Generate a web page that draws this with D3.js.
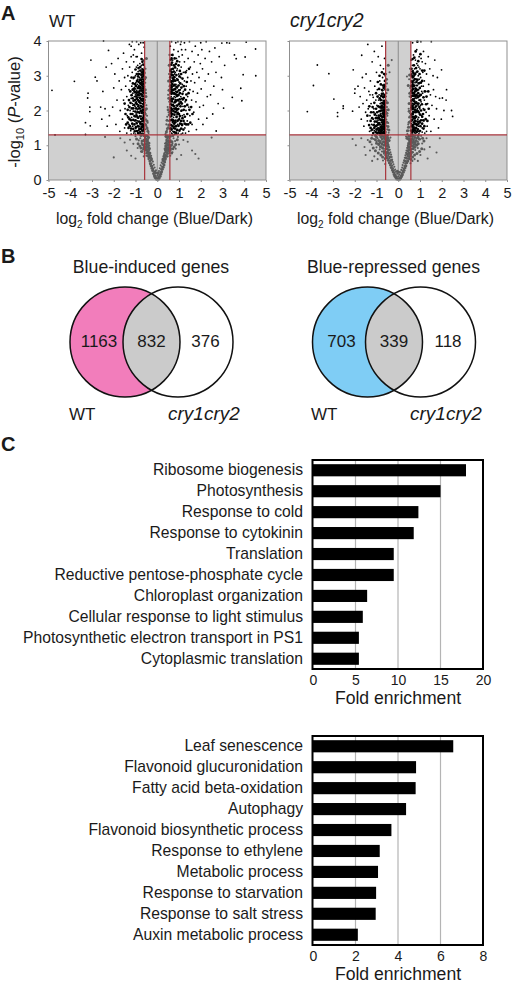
<!DOCTYPE html>
<html>
<head>
<meta charset="utf-8">
<script src="https://cdn.jsdelivr.net/npm/d3@7"></script>
<style>
  body { margin: 0; background: #fff; }
  text { font-family: "Liberation Sans", Arial, sans-serif; fill: #1a1a1a; }
</style>
</head>
<body>
<svg id="chart" width="520" height="987"></svg>
<script>
// Volcano points: [log2 fold change, -log10 P]
const wtSigLeft = [[-4.84,2.58],[-3.81,2.84],[-3.05,3.45],[-3.18,2.5],[-3.2,2.36],[-3.1,2.1],[-3.1,1.97],[-3.3,1.65],[-3.08,1.56],[-4.7,1.3],[-3.3,1.31],[-2.85,2.96],[-2.77,2.85],[-2.47,4],[-2.24,3.73],[-2.35,3.25],[-2.1,3.35],[-2.5,2.55],[-2.6,2.1],[-2.4,2.05],[-2.2,1.85],[-2.55,1.75],[-2.3,1.55],[-2.05,2.1],[-2.0,2.65],[-1.95,3.05],[-1.85,2.3],[-1.9,1.6],[-1.8,3.5],[-1.75,2.85],[-1.7,2.0],[-1.72,1.4],
[-1.65,2.6],[-1.6,3.2],[-1.6,1.75],[-1.55,2.3],[-1.55,3.65],[-1.5,2.95],[-1.5,1.5],[-1.48,2.05],[-1.45,2.7],[-1.42,3.4],[-1.4,1.35],[-1.4,2.4],[-1.38,1.85],[-1.35,3.0],[-1.33,2.15],[-1.3,2.6],[-1.3,1.6],[-1.28,3.9],[-1.27,3.25],[-1.25,2.85],[-1.25,2.0],[-1.22,1.42],[-1.2,2.35],[-1.2,3.55],[-1.18,1.8],[-1.17,2.7],[-1.15,3.1],[-1.15,2.2],[-1.13,1.55],[-1.12,2.5],[-1.1,2.92],[-1.1,1.98],[-1.08,3.4],[-1.08,1.35],[-1.06,2.3],[-1.05,2.65],[-1.05,3.75],[-1.03,1.7],[-1.02,2.12],[-1.0,3.0],[-1.0,2.45],[-0.99,1.48],[-0.98,2.8],[-0.97,1.9],[-0.96,3.25],[-0.95,2.25],[-0.94,2.58],[-0.93,1.62],[-0.92,3.55],[-0.91,2.02],[-0.9,2.9],[-0.9,1.36],[-0.89,2.38],[-0.88,3.12],[-0.87,1.78],[-0.86,2.7],[-0.85,2.16],[-0.85,3.9],[-0.84,1.5],[-0.83,2.5],[-0.82,2.95],[-0.81,1.92],[-0.8,3.35],[-0.8,2.28],[-0.79,1.33],[-0.78,2.62],[-0.77,1.66],[-0.76,2.05],[-0.75,3.05],[-0.75,2.8],[-0.74,2.42],[-0.73,1.45],[-0.72,1.84],[-0.72,3.65],[-0.71,2.2],[-0.7,2.55],[-0.7,3.2],[-0.69,1.58],[-0.68,2.9],[-0.68,1.98],[-0.67,2.34],[-0.66,1.35],[-0.66,2.7],[-0.65,1.75],[-0.65,3.45],[-0.64,2.12],[-0.64,2.48],[-0.63,1.5],[-0.63,3.0],[-0.62,1.9],[-0.62,2.6],[-0.61,2.26],[-0.61,1.64],[-0.6,3.82],[-0.6,2.8],[-0.6,1.4],[-0.6,2.05],[-0.59,1.8],[-0.59,2.4],[-0.59,3.25],[-0.85,1.42],[-0.92,1.7],[-1.0,1.82],[-0.8,1.55],[-0.75,1.68],[-0.7,1.42],[-0.68,1.62],[-0.64,1.82],[-0.62,1.55],[-0.72,2.0],[-0.78,2.15],[-0.82,2.38],[-0.88,2.05],[-0.95,2.48],[-1.05,2.4],[-1.12,2.15],[-0.66,2.2],[-0.7,2.35],[-0.74,2.65],[-0.63,2.35],[-0.67,2.52],[-0.76,2.9],[-0.84,2.72],[-0.92,2.75],[-1.0,2.62],[-0.68,3.1],[-0.73,3.3],[-0.82,3.15],[-0.9,3.3],[-0.97,3.55],[-1.1,3.6],[-1.2,3.85],[-0.65,3.95],[-0.76,3.95],[-0.95,3.98],[-1.15,3.98],[-0.64,1.32],[-0.72,1.33],[-1.0,1.32],[-1.2,1.32]];
const wtDenseLeft = [[-.6,1.46],[-.64,1.58],[-.61,1.71],[-.67,1.42],[-.7,1.52],[-.73,1.6],[-.62,1.87],[-.66,1.78],[-.69,1.69],[-.75,1.48],[-.78,1.38],[-.6,1.95],[-.65,2.02],[-.63,2.17],[-.68,2.09],[-.71,1.93],[-.74,1.76],[-.78,1.62],[-.82,1.46],[-.87,1.34],[-.6,2.22],[-.62,2.31],[-.66,2.41],[-.69,2.28],[-.73,2.12],[-.76,1.98],[-.8,1.83],[-.84,1.68],[-.89,1.55],[-.93,1.41],[-.6,2.52],[-.64,2.58],[-.67,2.64],[-.71,2.46],[-.74,2.32],[-.78,2.22],[-.82,2.06],[-.85,1.95],[-.9,1.8],[-.95,1.64],[-.98,1.52],[-1.03,1.4],[-.61,2.68],[-.65,2.76],[-.69,2.72],[-.72,2.58],[-.76,2.48],[-.79,2.36],[-.83,2.25],[-.87,2.12],[-.91,1.95],[-.95,1.85],[-1,1.72],[-1.05,1.6],[-1.1,1.47],[-.6,2.9],[-.63,2.84],[-.67,2.97],[-.71,2.82],[-.74,2.76],[-.78,2.68],[-.81,2.56],[-.85,2.44],[-.89,2.3],[-.93,2.18],[-.97,2.06],[-1.01,1.97],[-1.05,1.84],[-1.1,1.73],[-1.15,1.62],[-1.2,1.48],[-.6,3.08],[-.63,3.14],[-.66,3.04],[-.7,2.95],[-.74,2.88],[-.78,2.78],[-.82,2.64],[-.86,2.52],[-.9,2.44],[-.94,2.34],[-.98,2.22],[-1.02,2.3],[-1.06,2.16],[-1.1,2.06],[-1.14,1.9],[-1.2,1.72],[-1.26,1.55],[-.66,3.18],[-.7,3.1],[-.73,3.02],[-.77,3.15],[-.81,2.88],[-.85,2.82],[-.89,2.65],[-.93,2.52],[-.97,2.4],[-1.01,2.52],[-1.05,2.55],[-1.09,2.28],[-1.13,2.35],[-1.17,2.06],[-1.22,1.9],[-1.27,1.75],[-1.32,1.5],[-.64,3.32],[-.68,3.4],[-.72,3.48],[-.78,3.25],[-.84,3.05],[-.88,2.98],[-.93,2.85],[-.98,2.7],[-1.03,2.76],[-1.08,2.62],[-1.13,2.6],[-1.18,2.44],[-1.23,2.22],[-1.28,2.1],[-1.33,1.8],[-1.36,1.65],[-.86,3.22],[-.94,3.05],[-1,3.18],[-1.06,2.95],[-1.12,2.78],[-1.18,2.95],[-1.24,2.55],[-1.3,2.3],[-1.36,2.02],[-1.43,1.6],[-1.46,1.9],[-1.5,2.2]];
const wtSigRight = [[4.52,3.77],[4.09,3.97],[4.04,3.54],[4.53,3],[3.95,3.03],[3.84,2.64],[3.89,2.28],[3.45,2.38],[3.05,2.07],[3.55,3.6],[3.63,3.49],[3.32,3.94],[2.97,3.94],[2.71,1.41],[3.2,3.95],[3.1,3.3],[2.95,2.95],[3.0,2.6],[2.85,3.55],[2.8,2.2],[2.7,3.1],[2.65,3.8],[2.6,2.7],[2.55,1.9],[2.5,3.4],[2.45,2.45],[2.4,3.7],[2.35,3.05],[2.3,2.4],[2.28,1.78],[2.25,3.98],[2.2,3.5],[2.2,2.85],[2.12,2.15],[2.1,1.6],[2.08,3.2],[2.05,3.75],[2.02,2.62],[2.0,3.95],[1.98,3.35],[1.95,2.1],[1.92,2.95],[1.9,1.75],[1.88,3.6],[1.85,2.5],[1.82,3.1],[1.8,1.45],[1.78,2.25],[1.75,3.85],[1.72,2.8],[1.7,3.4],[1.68,1.95],[1.65,2.55],[1.62,3.05],[1.6,1.6],[1.6,3.7],[1.58,2.3],[1.55,2.85],[1.52,3.25],[1.5,1.85],[1.5,2.6],[1.48,3.98],[1.45,2.1],[1.45,1.4],[1.42,3.5],[1.4,2.95],[1.4,2.4],[1.38,1.7],[1.35,3.15],[1.33,2.7],[1.32,2.0],[1.3,3.75],[1.28,2.25],[1.27,1.5],[1.25,3.4],[1.25,2.85],[1.23,1.88],[1.2,2.55],[1.2,3.1],[1.18,2.12],[1.17,1.35],[1.15,3.6],[1.15,2.75],[1.13,1.62],[1.12,2.35],[1.1,3.25],[1.1,1.98],[1.08,2.95],[1.07,3.9],[1.06,2.6],[1.05,1.45],[1.04,2.2],[1.03,3.4],[1.02,1.78],[1.0,2.82],[1.0,2.45],[0.99,3.05],[0.98,2.05],[0.97,1.35],[0.96,3.7],[0.95,2.68],[0.94,1.6],[0.93,2.3],[0.92,3.2],[0.91,1.88],[0.9,2.92],[0.9,2.52],[0.89,1.42],[0.88,3.5],[0.87,2.15],[0.86,2.75],[0.85,1.72],[0.85,3.95],[0.84,2.38],[0.83,3.1],[0.82,1.95],[0.81,1.32],[0.8,2.6],[0.8,3.3],[0.79,2.85],[0.78,1.55],[0.77,2.22],[0.76,3.75],[0.75,2.48],[0.75,1.8],[0.74,3.0],[0.73,2.05],[0.72,1.4],[0.72,2.7],[0.71,3.45],[0.7,2.32],[0.7,1.65],[0.69,2.92],[0.68,1.9],[0.68,3.2],[0.67,2.56],[0.66,1.35],[0.66,2.14],[0.65,3.6],[0.65,1.72],[0.64,2.8],[0.64,2.4],[0.63,1.5],[0.63,3.05],[0.62,2.0],[0.62,2.66],[0.61,1.82],[0.61,2.25],[0.6,3.85],[0.6,1.4],[0.6,3.3],[0.6,2.5],[0.59,1.6],[0.59,2.1],[0.59,2.9],[0.72,1.55],[0.8,1.7],[0.88,1.8],[0.95,1.95],[0.65,1.95],[0.7,2.15],[0.78,2.4],[0.85,2.55],[0.92,2.65],[1.0,2.25],[1.08,2.4],[1.15,1.85],[0.65,2.6],[0.72,2.95],[0.8,3.05],[0.9,3.15],[1.0,3.55],[1.12,3.75],[1.25,3.95],[0.66,3.98],[0.95,3.98],[1.1,3.98],[0.7,1.32],[0.9,1.33],[1.1,1.32],[1.3,1.35]];
const wtDenseRight = [[.6,1.48],[.63,1.58],[.6,1.72],[.66,1.45],[.69,1.56],[.72,1.68],[.62,1.9],[.65,1.84],[.68,1.74],[.75,1.5],[.78,1.38],[.6,1.97],[.64,2.06],[.62,2.18],[.67,2.02],[.7,1.9],[.74,1.72],[.78,1.62],[.82,1.48],[.86,1.36],[.6,2.3],[.63,2.34],[.65,2.48],[.68,2.26],[.72,2.16],[.75,1.98],[.79,1.88],[.83,1.66],[.87,1.55],[.92,1.44],[.6,2.6],[.63,2.54],[.66,2.66],[.7,2.5],[.73,2.34],[.77,2.12],[.81,2.05],[.85,1.96],[.89,1.82],[.93,1.7],[.98,1.56],[1.02,1.42],[.61,2.72],[.64,2.7],[.67,2.84],[.71,2.58],[.74,2.6],[.78,2.5],[.82,2.24],[.86,2.06],[.9,2.02],[.94,1.92],[.99,1.74],[1.05,1.62],[1.1,1.48],[.6,2.96],[.62,2.84],[.65,3.02],[.69,2.76],[.73,2.84],[.77,2.72],[.81,2.48],[.84,2.3],[.88,2.28],[.92,2.14],[.96,2.04],[1,1.9],[1.04,1.84],[1.09,1.7],[1.14,1.58],[1.2,1.45],[.6,3.14],[.63,3.18],[.67,3.1],[.71,3.02],[.75,2.9],[.79,2.96],[.83,2.62],[.87,2.46],[.91,2.42],[.95,2.3],[.99,2.18],[1.03,2.32],[1.07,2.12],[1.12,2],[1.16,1.78],[1.21,1.7],[1.26,1.62],[.64,3.32],[.68,3.38],[.72,3.2],[.76,3.12],[.8,2.74],[.84,2.86],[.88,2.68],[.92,2.54],[.96,2.44],[1,2.58],[1.04,2.5],[1.08,2.24],[1.13,2.2],[1.17,2.32],[1.22,2.02],[1.27,1.82],[1.33,1.6],[.62,3.46],[.66,3.5],[.7,3.6],[.76,3.3],[.82,3.24],[.88,3.02],[.94,2.88],[.98,2.72],[1.02,2.98],[1.06,2.78],[1.11,2.66],[1.16,2.48],[1.22,2.36],[1.27,2.12],[1.32,2.3],[1.38,1.9],[1.42,1.6],[.8,3.5],[.86,3.34],[.92,3.42],[.98,3.3],[1.04,3.14],[1.1,3.05],[1.16,2.92],[1.22,2.7],[1.28,2.6],[1.34,2.46],[1.38,2.16],[1.44,2.5],[1.48,2.02],[1.52,1.65],[1.56,2.1],[1.62,1.9],[1.3,3.1],[1.36,2.82],[1.46,3.2]];
const wtGrey = [[0,0],[0.03,0.05],[-0.03,0.08],[0.06,0.1],[-0.07,0.12],[0.1,0.16],[-0.1,0.18],[0.02,0.14],[-0.02,0.2],[0.14,0.22],[-0.14,0.25],[0.08,0.26],[-0.06,0.28],[0.18,0.3],[-0.18,0.32],[0.12,0.34],[-0.12,0.36],[0.22,0.38],[-0.22,0.4],[0.16,0.42],[-0.16,0.44],[0.26,0.47],[-0.26,0.48],[0.2,0.5],[-0.2,0.53],[0.3,0.55],[-0.3,0.57],[0.24,0.6],[-0.25,0.62],[0.34,0.64],[-0.35,0.66],[0.28,0.68],[-0.28,0.7],[0.4,0.72],[-0.4,0.74],[0.32,0.77],[-0.32,0.78],[0.45,0.8],[-0.46,0.82],[0.36,0.85],[-0.37,0.86],[0.52,0.88],[-0.52,0.9],[0.4,0.92],[-0.41,0.94],[0.6,0.96],[-0.62,0.98],[0.44,1],[-0.44,1.02],[0.7,1.04],[-0.72,1.06],[0.5,1.08],[-0.5,1.1],[0.82,1.12],[-0.85,1.14],[0.42,1.16],[-0.42,1.18],[0.56,1.2],[-0.56,1.22],[0.95,1.24],[-1,1.26],[0.46,1.27],[-0.48,1.28],[0.7,0.8],[-0.75,0.82],[0.85,0.9],[-0.9,0.92],[1,1.02],[-1.1,1.04],[1.2,1.15],[-1.25,1.16],[0.6,0.7],[-0.62,0.68],[1.4,1.1],[-1.5,1.08],[1.6,0.85],[-1.4,0.85],[1.9,0.62],[-2,0.65],[2.5,1.22],[-2.4,1.24],[1.75,0.75],[-1.7,1.2],[0.9,0.6],[-1,0.62],[1.1,0.72],[-1.2,0.7],[0.38,1.32],[-0.4,1.35],[0.44,1.42],[-0.45,1.45],[0.5,1.52],[-0.5,1.55],[0.42,1.6],[-0.44,1.65],[0.54,1.7],[-0.52,1.75],[0.46,1.82],[-0.47,1.85],[0.52,1.95],[-0.54,2],[0.48,2.1],[-0.5,2.15],[0.55,2.25],[-0.56,2.3],[0.5,2.45],[-0.52,2.5],[0.56,2.7],[-0.55,2.8],[0.54,3.05],[-0.54,3.2],[0.56,3.6],[0.3,0.45],[-0.34,0.48],[0.38,0.58],[-0.4,0.6],[0.48,0.68],[-0.5,0.7],[0.55,0.78],[-0.58,0.76],[0.62,0.86],[-0.65,0.88],[0.5,0.98],[-0.5,1],[0.62,1.14],[-0.62,1.16],[0.75,1.2],[-0.78,1.2],[0.48,1.2],[-0.46,1.1],[0.36,1.05],[-0.36,1.06]];
const wtGreyDense = [[.05,.02],[-.05,.03],[.09,.06],[-.1,.07],[.13,.11],[-.13,.12],[.04,.2],[-.09,.22],[.17,.17],[-.17,.19],[.2,.24],[-.21,.27],[.23,.31],[-.24,.34],[.27,.37],[-.28,.4],[.31,.43],[-.31,.46],[.34,.52],[-.34,.55],[.37,.62],[-.38,.64],[.27,.56],[-.27,.58],[.3,.62],[-.31,.65],[.36,.7],[-.37,.71],[.42,.68],[-.43,.7],[.33,.72],[-.35,.76],[.39,.8],[-.4,.8],[.47,.76],[-.48,.78],[.36,.9],[-.36,.91],[.43,.86],[-.43,.88],[.49,.85],[-.5,.86],[.56,.84],[-.56,.86],[.39,.98],[-.39,.99],[.46,.93],[-.46,.95],[.54,.93],[-.55,.96],[.61,.91],[-.62,.93],[.41,1.06],[-.41,1.07],[.47,1.02],[-.48,1.04],[.54,1.02],[-.55,1.04],[.65,1],[-.67,1.02],[.44,1.12],[-.45,1.13],[.5,1.14],[-.51,1.17],[.58,1.1],[-.59,1.12],[.68,1.1],[-.7,1.12],[.44,1.23],[-.44,1.25],[.5,1.25],[-.53,1.27],[.6,1.26],[-.62,1.28],[.72,1.28],[-.75,1.28],[.85,1.02],[-.88,1.04],[.78,.96],[-.8,.98],[.72,.9],[-.75,.92],[.66,.78],[-.7,.82],[.92,1.16],[-.95,1.18],[.4,1.26],[-.4,1.22],[.42,1.38],[-.43,1.4],[.47,1.48],[-.47,1.5],[.53,1.58],[-.54,1.6],[.45,1.72],[-.47,1.7],[.55,1.88],[-.55,1.9],[.5,2.02],[-.5,2.05],[.53,2.35],[-.52,2.4],[.54,2.58],[-.55,2.6],[.52,2.85],[-.54,2.95],[.55,3.3],[-.5,3.5]];

const cryRSigLeft = [[-3.72,3.31],[-3.19,3.06],[-3.9,2.72],[-4.18,1.97],[-2.96,2.33],[-2.53,2.13],[-2.53,2.06],[-2.79,1.94],[-2.79,1.83],[-2.07,3.17],[-1.68,3.59],[-1.99,2.62],[-2.1,1.98],[-2.0,2.5],[-1.85,2.7],[-1.8,2.1],[-1.75,2.4],[-1.7,1.75],[-1.65,2.95],[-1.62,2.2],[-1.58,1.55],[-1.55,2.65],[-1.5,1.95],[-1.48,3.05],[-1.45,2.3],[-1.42,1.7],[-1.4,3.9],[-1.38,2.05],[-1.35,2.55],[-1.32,1.4],[-1.3,1.85],[-1.28,2.85],[-1.25,2.2],[-1.22,1.6],[-1.2,3.4],[-1.18,2.45],[-1.15,1.75],[-1.12,2.05],[-1.1,3.7],[-1.1,1.42],[-1.08,2.7],[-1.05,1.9],[-1.03,2.3],[-1.0,3.1],[-1,1.55],[-0.98,2.15],[-0.96,2.6],[-0.95,1.33],[-0.93,1.72],[-0.92,3.55],[-0.9,1.98],[-0.88,2.45],[-0.87,1.48],[-0.85,2.85],[-0.84,1.85],[-0.83,2.2],[-0.82,3.3],[-0.8,1.6],[-0.79,2.05],[-0.78,1.38],[-0.77,2.6],[-0.76,1.75],[-0.75,3.85],[-0.75,2.3],[-0.74,1.5],[-0.73,1.92],[-0.72,2.95],[-0.71,1.66],[-0.7,2.12],[-0.7,1.34],[-0.69,2.5],[-0.68,1.82],[-0.68,3.2],[-0.67,1.45],[-0.66,2.0],[-0.65,2.75],[-0.65,1.6],[-0.64,2.25],[-0.64,1.36],[-0.63,1.75],[-0.63,3.5],[-0.62,2.4],[-0.62,1.5],[-0.61,1.9],[-0.61,2.6],[-0.6,1.65],[-0.6,2.1],[-0.6,1.32],[-0.6,3.0],[-0.59,1.82],[-0.59,1.45],[-0.59,2.3],[-0.72,1.42],[-0.78,1.56],[-0.85,1.65],[-0.92,1.5],[-1.0,1.85],[-0.82,1.9],[-0.68,1.55],[-0.72,1.75],[-0.65,1.85],[-0.62,1.98],[-0.63,1.42],[-0.66,1.7],[-0.7,1.98],[-0.78,2.22],[-0.9,2.3],[-1.15,2.38],[-1.3,2.45],[-1.25,1.42],[-1.1,1.6],[-0.66,1.35],[-0.78,1.32]];
const cryDenseLeft = [[-.6,1.38],[-.62,1.34],[-.64,1.47],[-.6,1.56],[-.62,1.62],[-.65,1.53],[-.67,1.38],[-.69,1.48],[-.7,1.6],[-.6,1.74],[-.62,1.8],[-.64,1.68],[-.67,1.62],[-.69,1.72],[-.72,1.54],[-.74,1.36],[-.76,1.44],[-.6,1.9],[-.63,1.95],[-.66,1.84],[-.68,1.9],[-.71,1.82],[-.74,1.66],[-.77,1.5],[-.8,1.4],[-.83,1.34],[-.6,2.02],[-.62,2.14],[-.65,2.08],[-.68,2.02],[-.71,1.92],[-.75,1.82],[-.78,1.72],[-.81,1.52],[-.85,1.45],[-.88,1.36],[-.6,2.22],[-.63,2.18],[-.66,2.28],[-.69,2.2],[-.73,2.08],[-.76,2],[-.8,1.85],[-.83,1.74],[-.87,1.6],[-.9,1.42],[-.95,1.48],[-.98,1.36],[-.6,2.4],[-.64,2.45],[-.68,2.38],[-.72,2.22],[-.76,2.14],[-.8,2.1],[-.84,1.98],[-.88,1.78],[-.92,1.64],[-.96,1.58],[-1,1.45],[-1.04,1.38],[-.62,2.7],[-.67,2.65],[-.71,2.4],[-.75,2.48],[-.81,2.3],[-.86,2.1],[-.9,1.85],[-.95,1.78],[-1,1.68],[-1.05,1.55],[-1.1,1.5],[-1.15,1.35],[-.61,2.85],[-.7,2.72],[-.78,2.42],[-.85,2.35],[-.92,2.12],[-.97,1.95],[-1.03,1.78],[-1.08,1.68],[-1.14,1.58],[-1.2,1.45],[-1.27,1.5],[-.65,3.05],[-.73,2.58],[-.8,2.75],[-.88,2.62],[-.95,2.4],[-1.02,2.05],[-1.08,1.88],[-1.14,1.95],[-1.2,1.78],[-1.27,1.7],[-1.34,1.58],[-.75,3.1],[-.86,3],[-.94,2.82],[-1.02,2.5],[-1.1,2.22],[-1.18,2.1],[-1.25,1.95],[-1.33,2.12],[-1.42,1.85]];
const cryRSigRight = [[1.99,3.17],[2.22,2.6],[2.5,1.83],[2.45,2],[2.2,2.3],[2.03,2.36],[2.1,2.0],[1.98,1.75],[1.9,2.35],[1.85,1.5],[1.8,2.95],[1.76,2.05],[1.72,2.4],[1.68,3.45],[1.65,1.75],[1.62,2.6],[1.6,3.0],[1.55,2.15],[1.52,3.98],[1.5,1.4],[1.48,2.45],[1.45,3.2],[1.42,1.85],[1.4,2.75],[1.38,3.55],[1.35,2.2],[1.33,1.55],[1.3,3.05],[1.28,1.95],[1.27,2.55],[1.25,3.35],[1.22,1.35],[1.2,2.3],[1.2,2.85],[1.18,1.7],[1.16,3.7],[1.15,2.05],[1.13,3.1],[1.12,2.5],[1.1,1.5],[1.1,3.4],[1.08,1.85],[1.07,2.7],[1.05,2.25],[1.04,3.98],[1.03,2.95],[1.02,1.42],[1.01,1.65],[1,2.45],[1,3.2],[0.99,2.05],[0.98,2.8],[0.97,1.9],[0.96,3.55],[0.95,1.33],[0.95,2.3],[0.94,2.6],[0.93,1.55],[0.92,3.0],[0.91,2.15],[0.9,1.75],[0.9,3.3],[0.89,2.42],[0.88,2.72],[0.87,1.42],[0.86,1.98],[0.85,3.75],[0.85,2.9],[0.84,2.25],[0.83,1.62],[0.82,3.1],[0.81,2.55],[0.8,1.85],[0.8,1.35],[0.79,3.45],[0.78,2.08],[0.77,2.8],[0.76,1.5],[0.75,2.35],[0.75,3.2],[0.74,1.72],[0.73,2.62],[0.72,1.95],[0.72,2.98],[0.71,1.4],[0.7,2.18],[0.7,3.6],[0.69,1.6],[0.68,2.48],[0.68,2.8],[0.67,1.82],[0.66,3.95],[0.66,1.32],[0.65,2.05],[0.65,3.3],[0.64,2.65],[0.64,1.5],[0.63,2.3],[0.63,1.72],[0.62,3.05],[0.62,1.92],[0.61,1.4],[0.61,2.5],[0.6,2.15],[0.6,1.62],[0.6,2.85],[0.6,1.32],[0.59,3.45],[0.59,1.8],[0.59,2.02],[0.59,2.38],[0.7,1.78],[0.76,1.95],[0.82,2.35],[0.88,2.05],[0.94,1.8],[1.02,2.15],[0.78,2.65],[0.84,2.72],[0.9,2.6],[0.96,2.9],[1.08,2.55],[1.15,2.7],[0.66,1.45],[0.72,1.55],[0.8,1.6],[0.68,2.15],[0.72,2.32],[0.65,2.42],[0.75,2.92],[0.85,3.35],[0.95,3.25],[1.05,3.5],[0.62,2.7],[0.68,3.15],[0.92,1.45],[1.1,1.38],[1.3,1.4],[0.74,1.36]];
const cryDenseRight = [[.6,1.42],[.62,1.55],[.6,1.7],[.64,1.38],[.66,1.58],[.68,1.42],[.6,1.88],[.63,1.82],[.65,1.74],[.67,1.9],[.7,1.5],[.72,1.66],[.74,1.46],[.6,2.08],[.62,2.2],[.64,2.12],[.67,2.04],[.69,1.96],[.72,1.82],[.76,1.62],[.78,1.42],[.6,2.28],[.62,2.42],[.65,2.3],[.68,2.32],[.7,2.08],[.73,2.18],[.76,1.78],[.79,1.7],[.82,1.5],[.85,1.38],[.6,2.55],[.63,2.58],[.66,2.5],[.68,2.62],[.71,2.42],[.74,2.26],[.77,2.02],[.8,1.95],[.83,1.82],[.86,1.58],[.9,1.46],[.6,2.7],[.63,2.82],[.66,2.75],[.7,2.7],[.72,2.5],[.76,2.44],[.79,2.22],[.82,2.12],[.85,2],[.89,1.68],[.93,1.62],[.97,1.4],[.6,3.02],[.64,2.98],[.67,2.95],[.7,2.86],[.74,2.72],[.77,2.55],[.8,2.4],[.84,2.45],[.87,2.2],[.9,1.98],[.94,1.95],[.98,1.68],[1.02,1.55],[.61,3.2],[.65,3.12],[.7,3.08],[.74,3.02],[.78,2.9],[.82,2.62],[.86,2.58],[.9,2.38],[.93,2.2],[.97,2.1],[1.01,1.88],[1.05,1.72],[1.1,1.62],[1.16,1.48],[.66,3.48],[.72,3.3],[.78,3.05],[.84,2.82],[.88,2.88],[.92,2.5],[.97,2.42],[1.01,2.3],[1.05,2],[1.1,1.82],[1.15,1.72],[1.2,1.55],[.74,3.52],[.82,3.22],[.88,3.12],[.94,2.78],[.99,2.65],[1.04,2.45],[1.09,2.18],[1.14,1.9],[1.2,2.02],[1.26,1.75],[.8,3.7],[.92,3.42],[.98,3.05],[1.04,2.8],[1.1,2.85],[1.16,2.38],[1.22,2.55],[1.28,2.18],[1.34,1.7],[1.4,2.05],[.88,3.98],[1.02,3.62],[1.1,3.15],[1.2,3.15],[1.3,2.4],[1.38,2.55]];
const cryRGrey = [[0,0],[0.04,0.04],[-0.04,0.05],[0.08,0.08],[-0.08,0.1],[0,0.1],[0.12,0.13],[-0.12,0.14],[0.05,0.15],[-0.05,0.18],[0.16,0.19],[-0.16,0.2],[0.1,0.22],[-0.1,0.24],[0.2,0.26],[-0.2,0.27],[0.14,0.29],[-0.14,0.3],[0.24,0.32],[-0.24,0.34],[0.18,0.36],[-0.18,0.38],[0.28,0.4],[-0.28,0.41],[0.2,0.43],[-0.22,0.45],[0.32,0.47],[-0.32,0.48],[0.24,0.5],[-0.25,0.52],[0.36,0.54],[-0.37,0.55],[0.27,0.57],[-0.28,0.59],[0.4,0.61],[-0.42,0.62],[0.3,0.64],[-0.3,0.66],[0.45,0.68],[-0.47,0.69],[0.33,0.71],[-0.33,0.73],[0.5,0.75],[-0.52,0.76],[0.36,0.78],[-0.36,0.8],[0.56,0.82],[-0.6,0.83],[0.38,0.85],[-0.39,0.87],[0.62,0.89],[-0.68,0.9],[0.41,0.92],[-0.42,0.94],[0.7,0.96],[-0.78,0.97],[0.44,0.99],[-0.45,1.01],[0.8,1.03],[-0.9,1.04],[0.46,1.06],[-0.48,1.08],[0.9,1.1],[-1,1.11],[0.5,1.13],[-0.5,1.15],[1,1.17],[-1.12,1.18],[0.52,1.2],[-0.53,1.22],[0.65,1.24],[-0.7,1.25],[0.56,1.26],[-0.56,1.27],[0.8,1.28],[-0.85,1.28],[0.44,0.7],[-0.46,0.72],[0.52,0.66],[-0.56,0.68],[0.6,0.74],[-0.66,0.76],[0.68,0.8],[-0.75,0.82],[0.78,0.86],[-0.85,0.88],[0.9,0.92],[-1,0.94],[0.6,1],[-0.62,1.02],[0.72,1.1],[-0.8,1.12],[1.1,1.05],[-1.22,1.02],[1.2,0.88],[-1.3,0.85],[1.3,1.2],[-1.4,1.15],[0.85,1.2],[-0.95,1.2],[1.05,1.27],[-1.2,1.28],[1.02,0.72],[-1.1,0.68],[1.76,0.79],[1.91,1.2],[-1.55,0.95],[-1.7,1.2],[-1.5,0.72],[-1.95,1],[-2.1,1.18],[1.45,0.95],[1.35,0.62],[-1.2,0.55],[0.9,0.55],[-0.95,0.6],[0.75,0.6],[0.65,0.55],[-0.7,0.56],[0.56,0.48],[-0.6,0.46],[0.42,1.32],[-0.44,1.36],[0.48,1.42],[-0.5,1.46],[0.52,1.52],[-0.54,1.56],[0.46,1.6],[-0.46,1.64],[0.55,1.7],[-0.55,1.74],[0.5,1.8],[-0.5,1.85],[0.54,1.92],[-0.56,1.98],[0.48,2.05],[-0.52,2.1],[0.56,2.2],[-0.55,2.28],[0.52,2.4],[-0.54,2.5],[0.55,2.65],[-0.52,2.78],[0.5,2.9],[-0.56,3.05],[0.54,3.2],[-0.4,3.1],[0.4,2.98],[-0.3,3.45],[0.36,1.25],[-0.36,1.22],[0.6,1.14],[-0.64,1.18]];
const cryGreyDense = [[.07,.02],[-.07,.03],[.11,.06],[-.11,.07],[.15,.1],[-.15,.11],[.03,.22],[-.04,.25],[.19,.15],[-.19,.16],[.23,.22],[-.23,.23],[.27,.28],[-.27,.29],[.31,.35],[-.32,.36],[.35,.41],[-.36,.43],[.39,.5],[-.41,.5],[.44,.55],[-.46,.57],[.31,.55],[-.32,.57],[.49,.62],[-.51,.64],[.37,.64],[-.38,.66],[.56,.7],[-.58,.72],[.42,.74],[-.43,.76],[.48,.78],[-.49,.8],[.55,.78],[-.58,.8],[.63,.8],[-.66,.82],[.44,.84],[-.45,.86],[.5,.88],[-.51,.9],[.57,.88],[-.58,.9],[.68,.9],[-.72,.92],[.76,.94],[-.82,.96],[.46,.94],[-.47,.97],[.53,.96],[-.54,.98],[.64,.98],[-.66,1],[.72,1.02],[-.75,1.04],[.84,1],[-.9,1.02],[.49,1.03],[-.5,1.05],[.56,1.04],[-.58,1.06],[.66,1.08],[-.68,1.1],[.78,1.08],[-.84,1.08],[.92,1.04],[-1,1.06],[.53,1.1],[-.54,1.12],[.6,1.1],[-.62,1.1],[.7,1.16],[-.74,1.18],[.82,1.14],[-.9,1.14],[.96,1.18],[-1.05,1.16],[.47,1.18],[-.47,1.2],[.56,1.16],[-.58,1.18],[.64,1.18],[-.66,1.22],[.76,1.22],[-.8,1.24],[.9,1.22],[-1,1.24],[1.12,1.2],[-1.22,1.2],[.48,1.26],[-.49,1.28],[.6,1.27],[-.62,1.28],[.7,1.28],[-.75,1.28],[.92,1.28],[-1.05,1.28],[1.18,1.12],[-1.3,1.1],[1.08,.9],[-1.15,.92],[.98,.82],[-1.05,.84],[.86,.76],[-.92,.78],[.75,.72],[-.8,.72],[.66,.66],[-.72,.66],[.58,.6],[-.6,.62],[.4,1.2],[-.42,1.14],[.42,1.42],[-.43,1.44],[.47,1.52],[-.47,1.54],[.5,1.66],[-.52,1.66],[.54,1.82],[-.52,1.92],[.5,1.98],[-.46,2.02],[.5,2.2],[-.5,2.22],[.53,2.5],[-.48,2.6],[.46,2.72],[-.54,2.9],[.52,3.02],[-.46,3.3]];

const xTicks = [-5,-4,-3,-2,-1,0,1,2,3,4,5];
const yTicks = [0,1,2,3,4];

// Venn counts
const vennUp = [1163,832,376];
const vennDown = [703,339,118];

// GO enrichment bars
const upTerms = ["Ribosome biogenesis","Photosynthesis","Response to cold","Response to cytokinin","Translation","Reductive pentose-phosphate cycle","Chloroplast organization","Cellular response to light stimulus","Photosynthetic electron transport in PS1","Cytoplasmic translation"];
const upValues = [18,15,12.4,11.85,9.5,9.5,6.37,5.86,5.4,5.4];
const downTerms = ["Leaf senescence","Flavonoid glucuronidation","Fatty acid beta-oxidation","Autophagy","Flavonoid biosynthetic process","Response to ethylene","Metabolic process","Response to starvation","Response to salt stress","Auxin metabolic process"];
const downValues = [6.6,4.85,4.83,4.38,3.69,3.14,3.06,2.97,2.95,2.11];

const svg = d3.select("#chart");

function label(x, y, str, size, opts) {
  opts = opts || {};
  return svg.append("text")
    .attr("x", x).attr("y", y)
    .attr("font-size", size)
    .attr("text-anchor", opts.anchor || "start")
    .attr("font-style", opts.italic ? "italic" : null)
    .attr("font-weight", opts.bold ? "bold" : null)
    .text(str);
}

// Panel letters
label(1, 20, "A", 20, {bold: true});
label(1, 263, "B", 20, {bold: true});
label(1, 451, "C", 20, {bold: true});

// ---- A: volcano plots
const pCut = 1.3, fcCut = 0.58;
const y = d3.scaleLinear().domain([0,4]).range([180,41]);

function dots(g, data, x, r, fill) {
  g.append("g").selectAll("circle").data(data).join("circle")
    .attr("cx", d => x(d[0])).attr("cy", d => y(d[1])).attr("r", r).attr("fill", fill);
}

function volcano(x0, sig, dense, grey, greyDense, showY) {
  const x = d3.scaleLinear().domain([-5,5]).range([x0, x0 + 217.5]);
  const g = svg.append("g");

  // grey zones
  g.append("rect").attr("x", x(-5)).attr("y", y(pCut)).attr("width", x(5)-x(-5)).attr("height", y(0)-y(pCut)).attr("fill", "#d0d0d0");
  g.append("rect").attr("x", x(-fcCut)).attr("y", y(4)).attr("width", x(fcCut)-x(-fcCut)).attr("height", y(pCut)-y(4)).attr("fill", "#d0d0d0");
  g.append("line").attr("x1", x(0)).attr("x2", x(0)).attr("y1", y(4)).attr("y2", y(0)).attr("stroke", "#8a8a8a");

  // the thick clouds get bigger dots so they close up like the original
  dots(g, sig, x, 0.9, "#000");
  dots(g, dense, x, 1.35, "#000");
  dots(g, grey, x, 1.05, "#5a5a5a");
  dots(g, greyDense, x, 1.5, "#5a5a5a");

  // frame
  g.append("rect").attr("x", x(-5)).attr("y", y(4)).attr("width", x(5)-x(-5)).attr("height", y(0)-y(4))
    .attr("fill", "none").attr("stroke", "#8f8f8f");

  // cut-off lines
  const red = "#a8353c";
  [-fcCut, fcCut].forEach(v => {
    g.append("line").attr("x1", x(v)).attr("x2", x(v)).attr("y1", y(4)).attr("y2", y(0)).attr("stroke", red).attr("stroke-width", 1.2);
  });
  g.append("line").attr("x1", x(-5)).attr("x2", x(5)).attr("y1", y(pCut)).attr("y2", y(pCut)).attr("stroke", red).attr("stroke-width", 1.2);

  const ax = g.append("g").attr("transform", `translate(0,${y(0)})`)
    .call(d3.axisBottom(x).tickValues(xTicks).tickSize(2).tickPadding(6).tickFormat(d => String(d)));
  const ay = g.append("g").attr("transform", `translate(${x(-5)},0)`)
    .call(d3.axisLeft(y).tickValues(yTicks).tickSize(2).tickPadding(5).tickFormat(d => showY ? String(d) : ""));
  [ax, ay].forEach(a => {
    a.selectAll("path,line").attr("stroke", "#8f8f8f");
    a.selectAll("text").attr("font-size", 14.5).attr("fill", "#1a1a1a");
    a.select(".domain").remove();
  });

  // log2 x title
  const t = svg.append("text").attr("x", x0 + 106).attr("y", 224).attr("text-anchor", "middle").attr("font-size", 15.8);
  t.append("tspan").text("log");
  t.append("tspan").attr("dy", 4).attr("font-size", 10).text("2");
  t.append("tspan").attr("dy", -4).text(" fold change (Blue/Dark)");
}

volcano(48.5, wtSigLeft.concat(wtSigRight), wtDenseLeft.concat(wtDenseRight), wtGrey, wtGreyDense, true);
volcano(289.5, cryRSigLeft.concat(cryRSigRight), cryDenseLeft.concat(cryDenseRight), cryRGrey, cryGreyDense, false);

label(49, 27, "WT", 17);
label(290, 27, "cry1cry2", 19.5, {italic: true});

const yt = svg.append("text").attr("transform", "translate(20,112) rotate(-90)").attr("text-anchor", "middle").attr("font-size", 16.5);
yt.append("tspan").text("-log");
yt.append("tspan").attr("dy", 4).attr("font-size", 11).text("10");
yt.append("tspan").attr("dy", -4).text(" (");
yt.append("tspan").attr("font-style", "italic").text("P");
yt.append("tspan").text("-value)");

// ---- B: Venn diagrams
const vennR = 55, vennY = 342;
function venn(cx1, cx2, fill, counts, title, titleX, wtX, cryX) {
  const id = "clip" + Math.round(cx1);
  svg.append("clipPath").attr("id", id).append("circle").attr("cx", cx2).attr("cy", vennY).attr("r", vennR);
  svg.append("circle").attr("cx", cx1).attr("cy", vennY).attr("r", vennR).attr("fill", fill);
  svg.append("circle").attr("cx", cx1).attr("cy", vennY).attr("r", vennR).attr("fill", "#cbcbcb").attr("clip-path", `url(#${id})`);
  [cx1, cx2].forEach(c => {
    svg.append("circle").attr("cx", c).attr("cy", vennY).attr("r", vennR)
      .attr("fill", "none").attr("stroke", "#111").attr("stroke-width", 1.5);
  });
  const mid = (cx1 + cx2) / 2;
  [mid - 52.5, mid, mid + 54].forEach((px, i) => {
    label(px, 347, counts[i], 17, {anchor: "middle"});
  });
  label(titleX, 273, title, 17.7, {anchor: "middle"});
  label(wtX, 420, "WT", 17);
  label(cryX, 420, "cry1cry2", 19, {italic: true});
}
venn(125, 178, "#f27dbb", vennUp, "Blue-induced genes", 151, 69, 168);
venn(367.5, 420.5, "#7fcdf5", vennDown, "Blue-repressed genes", 393.5, 311, 410);

// ---- C: bar charts
function bars(terms, values, maxX, ticks, top) {
  const h = 209;
  const x = d3.scaleLinear().domain([0,maxX]).range([313,483]);
  const yb = d3.scaleBand().domain(terms).range([top, top + h]).paddingInner(0.42).paddingOuter(0.2);
  const g = svg.append("g");

  g.selectAll(".grid").data(ticks.slice(1,-1)).join("line").attr("class", "grid")
    .attr("x1", d => x(d)).attr("x2", d => x(d)).attr("y1", top).attr("y2", top + h)
    .attr("stroke", "#b4b4b4").attr("stroke-width", 1.2);

  g.selectAll(".bar").data(values).join("rect").attr("class", "bar")
    .attr("x", x(0)).attr("y", (d,i) => yb(terms[i]))
    .attr("width", d => x(d) - x(0)).attr("height", yb.bandwidth()).attr("fill", "#000");

  g.append("rect").attr("x", x(0) - 0.5).attr("y", top).attr("width", x(maxX) - x(0) + 0.5).attr("height", h)
    .attr("fill", "none").attr("stroke", "#000").attr("stroke-width", 2);

  g.selectAll(".term").data(terms).join("text").attr("class", "term")
    .attr("x", 303).attr("y", d => yb(d) + yb.bandwidth()/2 + 5)
    .attr("text-anchor", "end").attr("font-size", 15.7).text(d => d);

  const ax = g.append("g").attr("transform", `translate(0,${top + h})`)
    .call(d3.axisBottom(x).tickValues(ticks).tickSize(0).tickPadding(6).tickFormat(d => String(d)));
  ax.select(".domain").remove();
  ax.selectAll("text").attr("font-size", 14).attr("fill", "#1a1a1a");

  label(398, top + h + 35, "Fold enrichment", 17.6, {anchor: "middle"});
}
bars(upTerms, upValues, 20, [0,5,10,15,20], 460);
bars(downTerms, downValues, 8, [0,2,4,6,8], 736);
</script>
</body>
</html>
